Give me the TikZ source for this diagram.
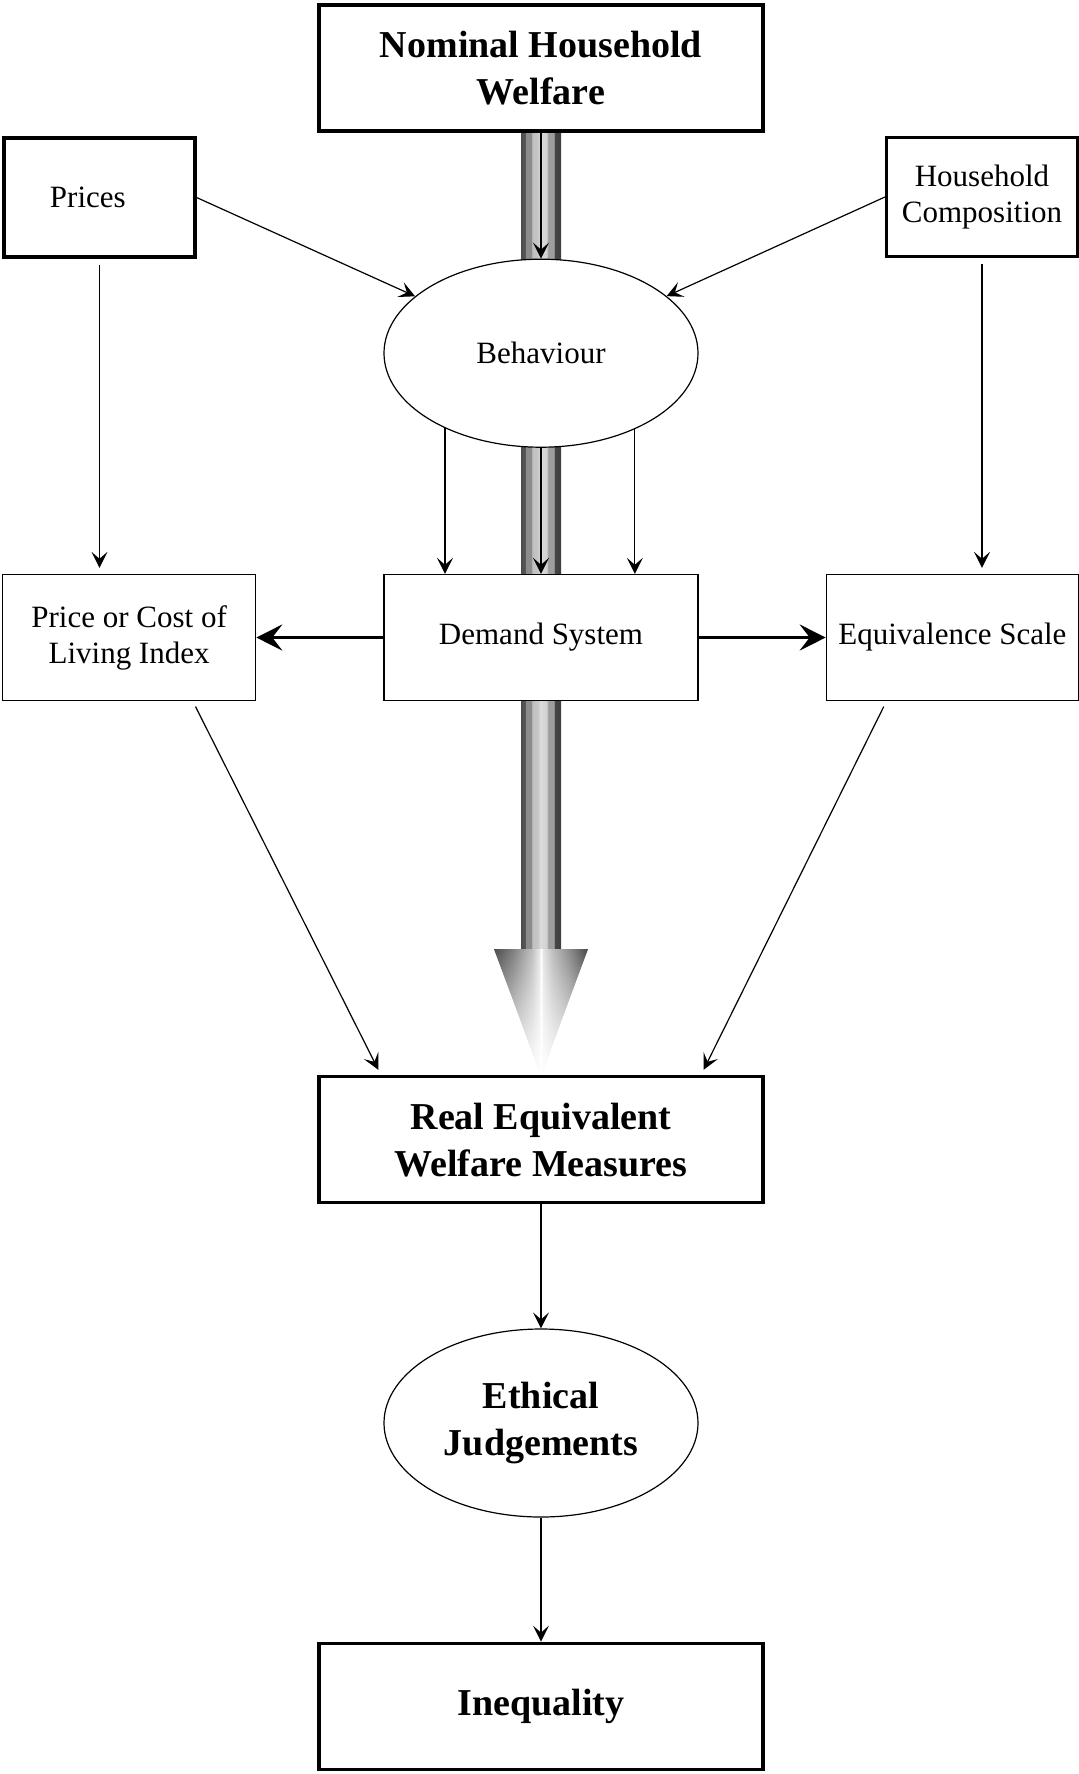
\documentclass[tikz,border=0pt]{standalone}
\usepackage{fontspec}
\setmainfont{Liberation Serif}
\usetikzlibrary{shapes.geometric, positioning, arrows.meta, calc, fadings}

\pgfdeclarelayer{bg}
\pgfsetlayers{bg,main}

\pgfdeclarehorizontalshading{shaftshade}{100bp}{
	color(0bp)=(black!70); color(25bp)=(black!70); color(30bp)=(black!66);
	color(31bp)=(black!45); color(38bp)=(black!45); color(39bp)=(black!25);
	color(46bp)=(black!22); color(49bp)=(black!14); color(57bp)=(black!18);
	color(59bp)=(black!38); color(66bp)=(black!38); color(67bp)=(black!72);
	color(75bp)=(black!76); color(100bp)=(black!76)}
\pgfdeclarehorizontalshading{headshade}{100bp}{
	color(0bp)=(black!70); color(25bp)=(black!70); color(35bp)=(black!50);
	color(45bp)=(black!25); color(49bp)=(black!10); color(50bp)=(white);
	color(51bp)=(black!10); color(56bp)=(black!25); color(65bp)=(black!45);
	color(75bp)=(black!72); color(100bp)=(black!72)}

\begin{document}
\begin{tikzpicture}[x=0.5pt, y=-0.5pt,
	>={Stealth[length=8pt, width=8pt, inset=3.5pt]},
	bigbox/.style={draw, line width=1.6pt, fill=white, minimum width=222pt, minimum height=63pt,
		align=center, font=\fontsize{19}{23.5}\selectfont\bfseries},
	smallbox/.style={draw, line width=0.7pt, fill=white, minimum height=63pt,
		align=center, font=\fontsize{15.5}{18}\selectfont},
	sidebox/.style={smallbox, line width=1.6pt, minimum width=95.5pt, minimum height=59.5pt},
	oval/.style={draw, ellipse, line width=0.6pt, fill=white, minimum width=157pt, minimum height=94pt,
		align=center, font=\fontsize{15.5}{18}\selectfont},
	link/.style={line width=0.6pt},
	gap/.style={shorten <=3pt, shorten >=3pt},
	bigarrow/.style={line width=1.5pt, -{Stealth[length=13pt, width=13pt, inset=5pt]}}]

	\useasboundingbox (0,0) rectangle (1079,1774);

	\node[bigbox] (nom) at (541,68) {Nominal Household\\Welfare};
	\node[oval, below=63pt of nom] (beh) {Behaviour};
	\node[smallbox, minimum width=157pt, below=63pt of beh] (dem) {Demand System};
	\node[smallbox, minimum width=126.5pt, left=63.5pt of dem] (pcli) {Price or Cost of\\Living Index};
	\node[smallbox, minimum width=126pt, right=63.5pt of dem] (eqs) {Equivalence Scale};
	\node[sidebox] (prices) at (99.5,197.5) {Prices~~~};
	\node[sidebox] (house) at (982,197) {Household\\Composition};
	\node[bigbox, below=187pt of dem] (rewm) {Real Equivalent\\Welfare Measures};
	\node[oval, below=62pt of rewm, font=\fontsize{19}{23.5}\selectfont\bfseries] (eth) {Ethical\\Judgements};
	\node[bigbox, below=62pt of eth] (ineq) {Inequality};

	% broad shaded arrow behind the boxes
	\begin{pgfonlayer}{bg}
		\coordinate (headtop) at ($(rewm.north)+(0,-126)$);
		\shade[shading=shaftshade] ($(nom.south)+(-20,0)$) rectangle ($(headtop)+(20,0)$);
		\shade[shading=headshade] ($(headtop)+(-47,0)$) -- ($(headtop)+(47,0)$) -- (rewm.north) -- cycle;
		\fill[white, path fading=north] ($(headtop)+(-47,0)$) -- ($(headtop)+(47,0)$) -- (rewm.north) -- cycle;
	\end{pgfonlayer}

	\path [->, link]
		(nom) edge (beh)
		(prices.east) edge (beh)
		(house.west) edge (beh)
		(prices.south) edge[gap] (prices.south |- pcli.north)
		(house.south) edge[gap] (house.south |- eqs.north)
		(beh.-142) edge (beh.-142 |- dem.north)
		(beh) edge (dem)
		(beh.-39) edge (beh.-39 |- dem.north)
		(pcli.315.5) edge[gap] (rewm.158.7)
		(eqs.224.3) edge[gap] (rewm.22)
		(rewm) edge (eth)
		(eth) edge (ineq)
		;
	\draw [bigarrow] (dem) -- (pcli);
	\draw [bigarrow] (dem) -- (eqs);
\end{tikzpicture}
\end{document}
